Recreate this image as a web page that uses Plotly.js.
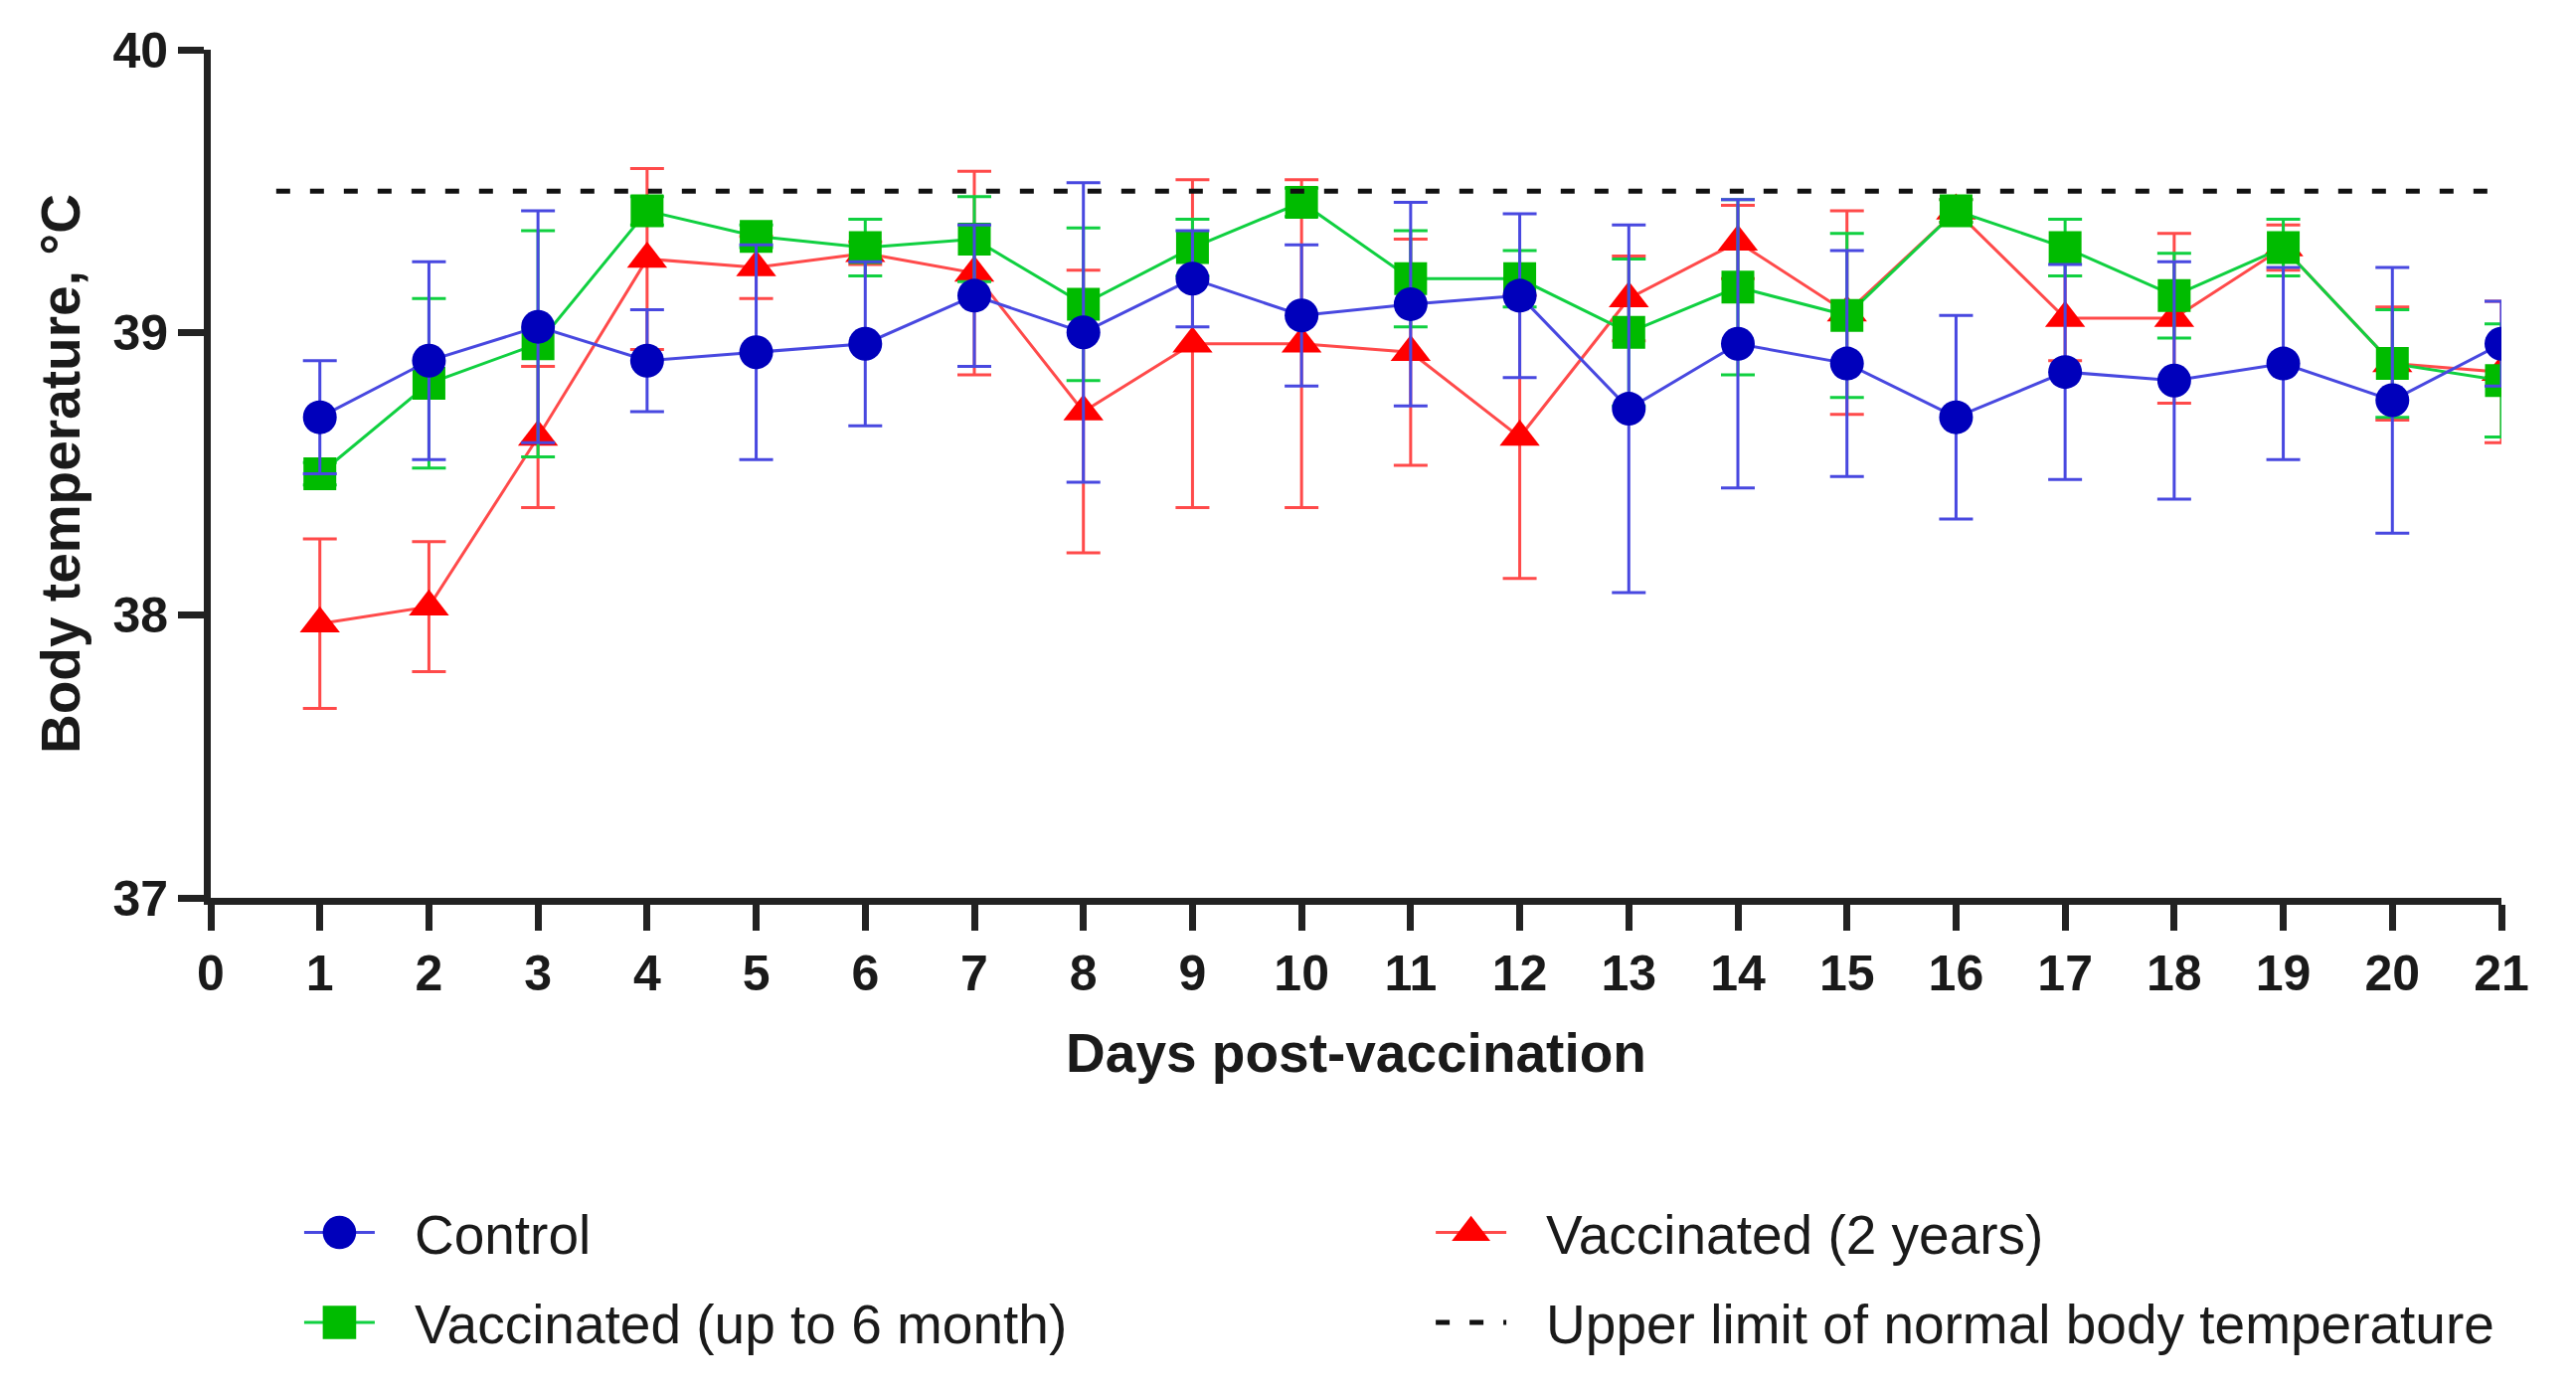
<!DOCTYPE html>
<html>
<head>
<meta charset="utf-8">
<script src="https://cdn.plot.ly/plotly-3.0.1.min.js"></script>
<style>
  html, body { margin: 0; padding: 0; background: #fff; }
  #chart { width: 2591px; height: 1402px; }
</style>
</head>
<body>
<div id="chart"></div>
<script>
// days after vaccination
const days = [1, 2, 3, 4, 5, 6, 7, 8, 9, 10, 11, 12, 13, 14, 15, 16, 17, 18, 19, 20, 21];

// mean body temperature and error
const controlMean = [38.70, 38.90, 39.02, 38.90, 38.93, 38.96, 39.13, 39.00, 39.19, 39.06, 39.10,
                     39.13, 38.73, 38.96, 38.89, 38.70, 38.86, 38.83, 38.89, 38.76, 38.96];
const controlErr = [0.20, 0.35, 0.41, 0.18, 0.38, 0.29, 0.25, 0.53, 0.17, 0.25, 0.36,
                    0.29, 0.65, 0.51, 0.40, 0.36, 0.38, 0.42, 0.34, 0.47, 0.15];

const sixMonthMean = [38.50, 38.82, 38.96, 39.43, 39.34, 39.30, 39.33, 39.10, 39.30, 39.46, 39.19,
                      39.19, 39.00, 39.16, 39.06, 39.43, 39.30, 39.13, 39.30, 38.89, 38.83];
const sixMonthErr = [0.04, 0.30, 0.40, 0.05, 0.04, 0.10, 0.15, 0.27, 0.10, 0.05, 0.17,
                     0.10, 0.26, 0.31, 0.29, 0.04, 0.10, 0.15, 0.10, 0.19, 0.20];

const twoYearMean = [37.97, 38.03, 38.63, 39.26, 39.23, 39.28, 39.21, 38.72, 38.96, 38.96, 38.93,
                     38.63, 39.12, 39.32, 39.07, 39.43, 39.05, 39.05, 39.30, 38.89, 38.86];
const twoYearErr = [0.30, 0.23, 0.25, 0.32, 0.11, 0.04, 0.36, 0.50, 0.58, 0.58, 0.40,
                    0.50, 0.15, 0.13, 0.36, 0.04, 0.15, 0.30, 0.08, 0.20, 0.25];

// upper limit of normal body temperature
const limitDays = [0.6, 20.95];
const limitTemp = [39.5, 39.5];

const yTicks = [37, 38, 39, 40];

const fontFamily = "Arial, 'Liberation Sans', sans-serif";

function series(name, y, err, lineColor, markerColor, symbol, size, legend, rank) {
    return {
        name: name, x: days, y: y,
        type: "scatter", mode: "lines+markers",
        line: {color: lineColor, width: 3},
        marker: {color: markerColor, symbol: symbol, size: size},
        error_y: {type: "data", array: err, visible: true, color: lineColor, thickness: 3, width: 17},
        legend: legend, legendgroup: name, legendrank: rank,
    };
}

let twoYear = series("Vaccinated (2 years)", twoYearMean, twoYearErr,
                     "#ff4a4a", "#ff0000", "triangle-up", 35, "legend2", 1);
let sixMonth = series("Vaccinated (up to 6 month)", sixMonthMean, sixMonthErr,
                      "#10d040", "#00bb00", "square", 33, "legend", 2);
let control = series("Control", controlMean, controlErr,
                     "#4848e0", "#0000bb", "circle", 34, "legend", 1);

let limit = {
    name: "Upper limit of normal body temperature",
    x: limitDays, y: limitTemp,
    type: "scatter", mode: "lines",
    line: {color: "#111", width: 5, dash: "14px,20px"},
    legend: "legend2", legendgroup: "limit", legendrank: 2,
};

let legendStyle = {
    orientation: "v", bgcolor: "rgba(0,0,0,0)",
    font: {family: fontFamily, size: 55, color: "#1a1a1a"},
    tracegroupgap: 16, itemwidth: 106,
    xanchor: "left", yanchor: "top", y: -0.345,
};

let layout = {
    width: 2591, height: 1402,
    margin: {l: 212, r: 75, t: 50, b: 499},
    paper_bgcolor: "#fff", plot_bgcolor: "#fff",
    font: {family: fontFamily, color: "#1a1a1a"},
    showlegend: true,
    legend: Object.assign({}, legendStyle, {x: 0.0386}),
    legend2: Object.assign({}, legendStyle, {x: 0.5326}),
    xaxis: {
        range: [0, 21], dtick: 1, tick0: 0,
        showgrid: false, zeroline: false,
        showline: true, linewidth: 7, linecolor: "#222",
        ticks: "outside", ticklen: 26, tickwidth: 7, tickcolor: "#222",
        tickfont: {family: fontFamily, size: 50, weight: "bold", color: "#1a1a1a"},
        title: {text: "Days post-vaccination", standoff: 36,
                font: {family: fontFamily, size: 55, weight: "bold", color: "#1a1a1a"}},
    },
    yaxis: {
        range: [37, 40], tickvals: yTicks,
        showgrid: false, zeroline: false,
        showline: true, linewidth: 7, linecolor: "#222",
        ticks: "outside", ticklen: 26, tickwidth: 7, tickcolor: "#222",
        tickfont: {family: fontFamily, size: 50, weight: "bold", color: "#1a1a1a"},
        title: {text: "Body temperature, °C", standoff: 18,
                font: {family: fontFamily, size: 55, weight: "bold", color: "#1a1a1a"}},
    },
};

Plotly.newPlot("chart", [twoYear, sixMonth, control, limit], layout, {displayModeBar: false, staticPlot: true})
    .then(function(gd) {
        // legend symbols: shorter line with a gap before the text, markers at plot size
        gd.querySelectorAll(".infolayer g.traces").forEach(function(item) {
            item.querySelectorAll(".legendlines path").forEach(function(p) {
                p.setAttribute("d", "M5,0h71");
            });
            item.querySelectorAll(".legendpoints path.scatterpts").forEach(function(p) {
                p.setAttribute("transform", "translate(40.5,0) scale(2.1)");
            });
        });
    });
</script>
</body>
</html>
